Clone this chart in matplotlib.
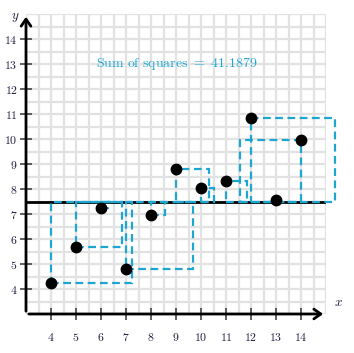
import matplotlib
matplotlib.use('Agg')
import matplotlib.pyplot as plt
from matplotlib.patches import Rectangle

# Data points
xs = [4, 5, 6, 7, 8, 9, 10, 11, 12, 13, 14]
ys = [4.26, 5.68, 7.24, 4.82, 6.95, 8.81, 8.04, 8.33, 10.84, 7.58, 9.96]
# Which way each square is drawn from its point (1 = right, -1 = left)
square_dir = [1, 1, 1, 1, 1, 1, 1, 1, 1, 1, -1]
line_y = 7.5
sum_text = "41.1879"

tick_vals = list(range(4, 15))

blue = '#1ea6d2'
plt.rcParams['mathtext.fontset'] = 'cm'

fig = plt.figure(figsize=(3.54, 3.53), dpi=100)
ax = fig.add_axes([26 / 354, 39 / 353, 300 / 354, 300 / 353])
ax.set_xlim(3, 15)
ax.set_ylim(3, 15)

# Grid every half unit
for v in [3 + 0.5 * i for i in range(25)]:
    ax.axvline(v, color='#e2e2e2', lw=1.6, zorder=0)
    ax.axhline(v, color='#e2e2e2', lw=1.6, zorder=0)

for s in ax.spines.values():
    s.set_visible(False)

# Axes with arrows
ax.annotate('', xy=(15, 3), xytext=(3, 3), xycoords='data',
            arrowprops=dict(arrowstyle='->,head_length=0.5,head_width=0.35', lw=2, color='black'),
            annotation_clip=False, zorder=5)
ax.annotate('', xy=(3, 15), xytext=(3, 3), xycoords='data',
            arrowprops=dict(arrowstyle='->,head_length=0.5,head_width=0.35', lw=2, color='black'),
            annotation_clip=False, zorder=5)

# Horizontal line
ax.plot([3, 15], [line_y, line_y], color='black', lw=2, zorder=2, solid_capstyle='butt')

# Squares
for x, y, d in zip(xs, ys, square_dir):
    side = abs(y - line_y)
    left = x if d > 0 else x - side
    ax.add_patch(Rectangle((left, min(y, line_y)), side, side, fill=False,
                           edgecolor=blue, lw=1.6, linestyle=(0, (3.5, 2)),
                           zorder=3, clip_on=False))

ax.plot(xs, ys, 'o', color='black', markersize=7.5, zorder=4, clip_on=False)

ax.text(9.05, 13, r'$\mathrm{Sum\ of\ squares}\ =\ ' + sum_text + '$', color=blue,
        fontsize=10, ha='center', va='center')

ax.set_xticks(tick_vals)
ax.set_yticks(tick_vals)
ax.set_xticklabels([r'$\mathbf{%d}$' % v for v in tick_vals])
ax.set_yticklabels([r'$\mathbf{%d}$' % v for v in tick_vals])
ax.tick_params(direction='inout', length=8, width=1.2, color='#444444',
               labelcolor='#1c1c40', labelsize=8.5)
ax.tick_params(axis='x', pad=8)
ax.tick_params(axis='y', pad=2)

fig.text(15 / 354, 1 - 17 / 353, r'$y$', fontsize=9.5, ha='center', va='center', color='#1c1c40')
fig.text(338 / 354, 1 - 302 / 353, r'$x$', fontsize=9.5, ha='center', va='center', color='#1c1c40')

fig.savefig('out.png', dpi=100)
